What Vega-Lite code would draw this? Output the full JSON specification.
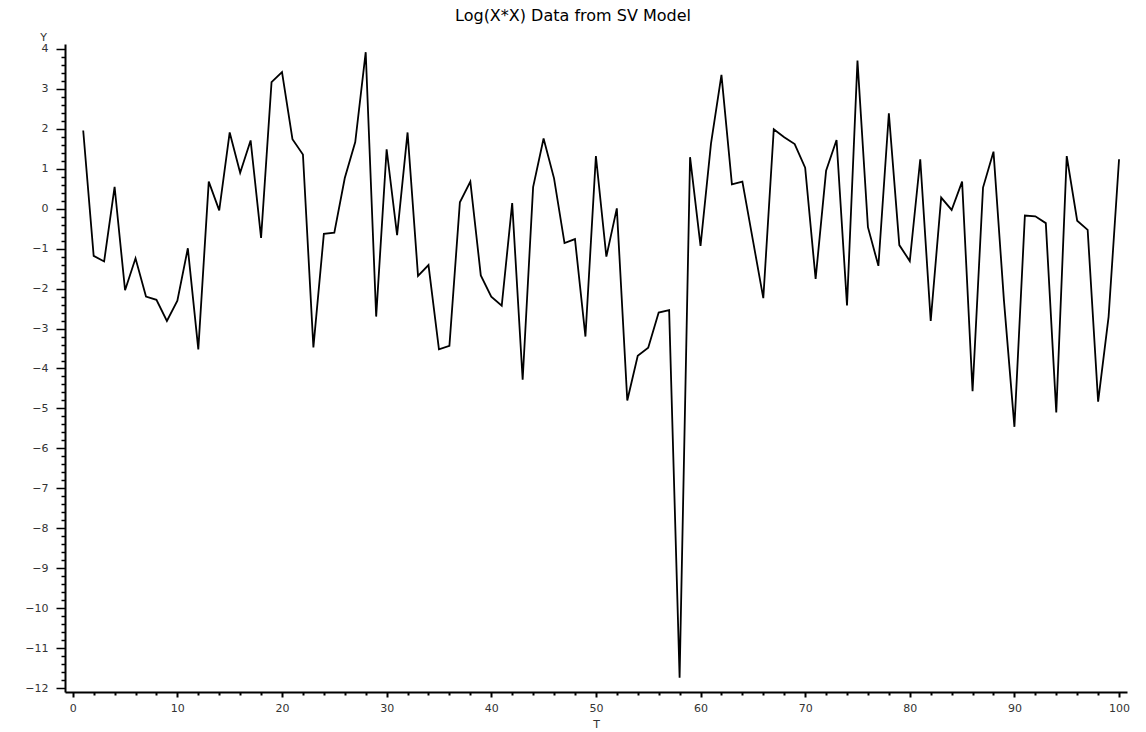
{
  "$schema": "https://vega.github.io/schema/vega-lite/v6.json",
  "autosize": "none",
  "width": 1062,
  "height": 648,
  "padding": {"left": 65, "top": 44, "right": 19, "bottom": 40},
  "background": "white",
  "title": {
    "text": "Log(X*X) Data from SV Model",
    "font": "DejaVu Sans",
    "fontSize": 16,
    "fontWeight": "normal",
    "color": "black",
    "anchor": "middle",
    "frame": "group",
    "baseline": "alphabetic",
    "offset": 0,
    "dx": -23,
    "dy": 6
  },
  "config": {
    "view": {"stroke": null},
    "axis": {
      "labelFont": "DejaVu Sans",
      "labelFontSize": 11,
      "labelColor": "#333",
      "titleFont": "DejaVu Sans",
      "titleFontSize": 11,
      "titleFontWeight": "normal",
      "titleColor": "#333",
      "domainColor": "black",
      "domainWidth": 2,
      "tickColor": "black",
      "grid": false,
      "labelOverlap": false,
      "labelFlush": false
    }
  },
  "data": {
    "values": [
      {"T": 1, "Y": 1.96}, {"T": 2, "Y": -1.18}, {"T": 3, "Y": -1.32}, {"T": 4, "Y": 0.55}, {"T": 5, "Y": -2.04},
      {"T": 6, "Y": -1.24}, {"T": 7, "Y": -2.2}, {"T": 8, "Y": -2.28}, {"T": 9, "Y": -2.81}, {"T": 10, "Y": -2.3},
      {"T": 11, "Y": -0.99}, {"T": 12, "Y": -3.52}, {"T": 13, "Y": 0.68}, {"T": 14, "Y": -0.04}, {"T": 15, "Y": 1.91},
      {"T": 16, "Y": 0.9}, {"T": 17, "Y": 1.71}, {"T": 18, "Y": -0.73}, {"T": 19, "Y": 3.17}, {"T": 20, "Y": 3.42},
      {"T": 21, "Y": 1.74}, {"T": 22, "Y": 1.36}, {"T": 23, "Y": -3.47}, {"T": 24, "Y": -0.63}, {"T": 25, "Y": -0.6},
      {"T": 26, "Y": 0.77}, {"T": 27, "Y": 1.67}, {"T": 28, "Y": 3.92}, {"T": 29, "Y": -2.7}, {"T": 30, "Y": 1.49},
      {"T": 31, "Y": -0.66}, {"T": 32, "Y": 1.91}, {"T": 33, "Y": -1.68}, {"T": 34, "Y": -1.41}, {"T": 35, "Y": -3.52},
      {"T": 36, "Y": -3.43}, {"T": 37, "Y": 0.16}, {"T": 38, "Y": 0.68}, {"T": 39, "Y": -1.67}, {"T": 40, "Y": -2.2},
      {"T": 41, "Y": -2.43}, {"T": 42, "Y": 0.14}, {"T": 43, "Y": -4.28}, {"T": 44, "Y": 0.54}, {"T": 45, "Y": 1.76},
      {"T": 46, "Y": 0.76}, {"T": 47, "Y": -0.86}, {"T": 48, "Y": -0.76}, {"T": 49, "Y": -3.2}, {"T": 50, "Y": 1.32},
      {"T": 51, "Y": -1.2}, {"T": 52, "Y": 0.01}, {"T": 53, "Y": -4.8}, {"T": 54, "Y": -3.68}, {"T": 55, "Y": -3.48},
      {"T": 56, "Y": -2.6}, {"T": 57, "Y": -2.54}, {"T": 58, "Y": -11.74}, {"T": 59, "Y": 1.29}, {"T": 60, "Y": -0.93},
      {"T": 61, "Y": 1.63}, {"T": 62, "Y": 3.35}, {"T": 63, "Y": 0.61}, {"T": 64, "Y": 0.68}, {"T": 65, "Y": -0.78},
      {"T": 66, "Y": -2.24}, {"T": 67, "Y": 1.99}, {"T": 68, "Y": 1.79}, {"T": 69, "Y": 1.62}, {"T": 70, "Y": 1.03},
      {"T": 71, "Y": -1.76}, {"T": 72, "Y": 0.95}, {"T": 73, "Y": 1.72}, {"T": 74, "Y": -2.42}, {"T": 75, "Y": 3.71},
      {"T": 76, "Y": -0.46}, {"T": 77, "Y": -1.43}, {"T": 78, "Y": 2.39}, {"T": 79, "Y": -0.91}, {"T": 80, "Y": -1.31},
      {"T": 81, "Y": 1.24}, {"T": 82, "Y": -2.81}, {"T": 83, "Y": 0.28}, {"T": 84, "Y": -0.03}, {"T": 85, "Y": 0.68},
      {"T": 86, "Y": -4.57}, {"T": 87, "Y": 0.53}, {"T": 88, "Y": 1.43}, {"T": 89, "Y": -2.3}, {"T": 90, "Y": -5.46},
      {"T": 91, "Y": -0.17}, {"T": 92, "Y": -0.19}, {"T": 93, "Y": -0.36}, {"T": 94, "Y": -5.1}, {"T": 95, "Y": 1.32},
      {"T": 96, "Y": -0.3}, {"T": 97, "Y": -0.53}, {"T": 98, "Y": -4.83}, {"T": 99, "Y": -2.71}, {"T": 100, "Y": 1.24}
    ]
  },
  "mark": {"type": "line", "color": "black", "strokeWidth": 1.8, "clip": false},
  "encoding": {
    "x": {
      "field": "T",
      "type": "quantitative",
      "scale": {"domain": [-0.74, 100.76], "nice": false, "zero": false},
      "axis": {
        "title": "T",
        "titleY": 26,
        "titleBaseline": "top",
        "values": [0,2,4,6,8,10,12,14,16,18,20,22,24,26,28,30,32,34,36,38,40,42,44,46,48,50,52,54,56,58,60,62,64,66,68,70,72,74,76,78,80,82,84,86,88,90,92,94,96,98,100],
        "labelExpr": "datum.value % 10 == 0 ? datum.label : ''",
        "tickSize": {"condition": {"test": "datum.value % 10 == 0", "value": 5}, "value": 3},
        "tickWidth": 2,
        "labelPadding": 5
      }
    },
    "y": {
      "field": "Y",
      "type": "quantitative",
      "scale": {"domain": [-12.1, 4.125], "nice": false, "zero": false},
      "axis": {
        "title": "Y",
        "titleAngle": 0,
        "titleX": -22,
        "titleY": -7,
        "titleAlign": "center",
        "titleBaseline": "middle",
        "values": [-12,-11.8,-11.6,-11.4,-11.2,-11,-10.8,-10.6,-10.4,-10.2,-10,-9.8,-9.6,-9.4,-9.2,-9,-8.8,-8.6,-8.4,-8.2,-8,-7.8,-7.6,-7.4,-7.2,-7,-6.8,-6.6,-6.4,-6.2,-6,-5.8,-5.6,-5.4,-5.2,-5,-4.8,-4.6,-4.4,-4.2,-4,-3.8,-3.6,-3.4,-3.2,-3,-2.8,-2.6,-2.4,-2.2,-2,-1.8,-1.6,-1.4,-1.2,-1,-0.8,-0.6,-0.4,-0.2,0,0.2,0.4,0.6,0.8,1,1.2,1.4,1.6,1.8,2,2.2,2.4,2.6,2.8,3,3.2,3.4,3.6,3.8,4],
        "labelExpr": "abs(datum.value - round(datum.value)) < 0.01 ? format(datum.value, 'd') : ''",
        "tickSize": {"condition": {"test": "abs(datum.value - round(datum.value)) < 0.01", "value": 9}, "value": 4},
        "tickWidth": 1.5,
        "labelPadding": 8
      }
    }
  }
}
